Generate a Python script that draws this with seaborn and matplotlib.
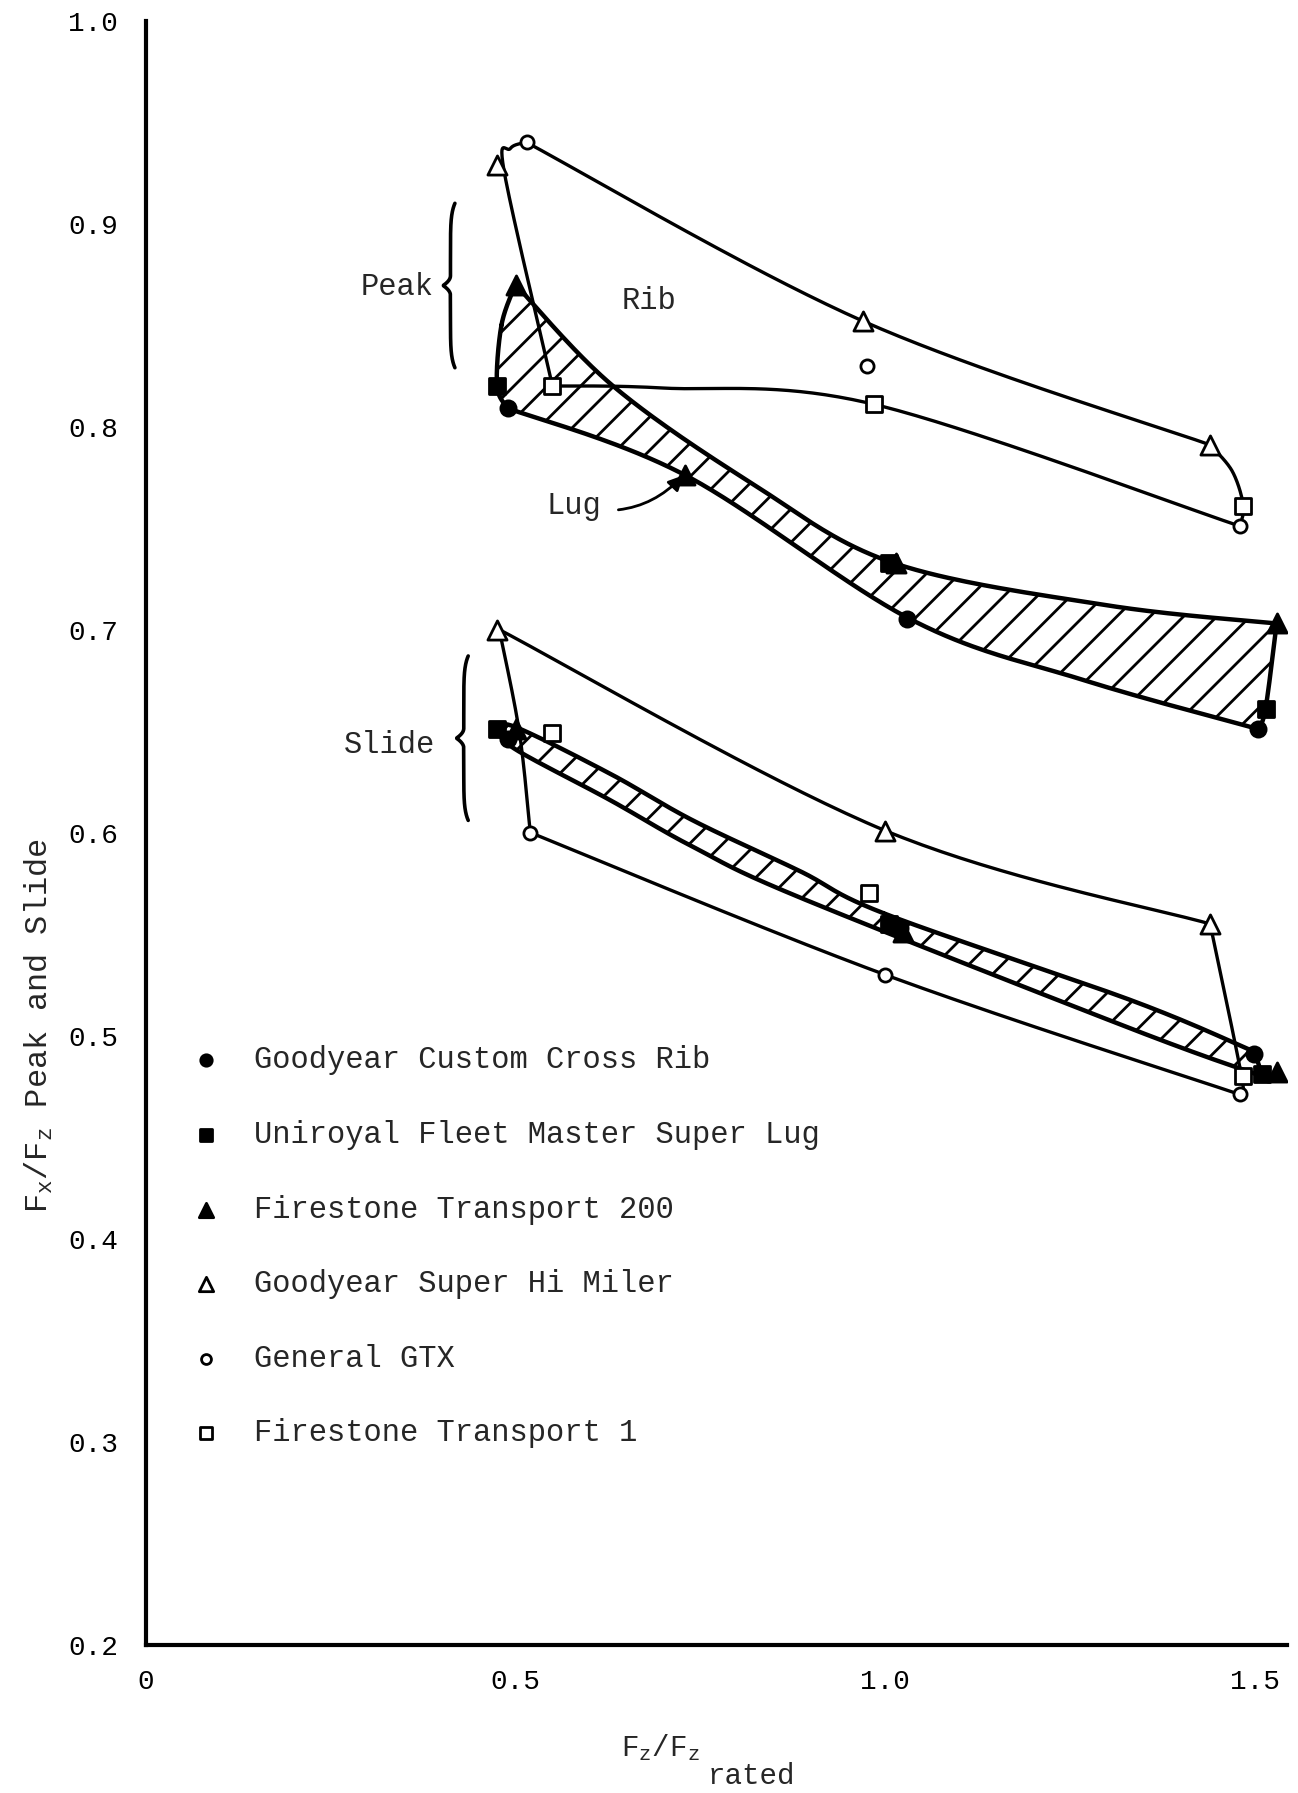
import numpy as np
import pandas as pd
import matplotlib
matplotlib.use('Agg')
import matplotlib.pyplot as plt
import seaborn as sns

sns.set_theme(style='white')
plt.rcParams['font.family'] = ['Liberation Mono', 'DejaVu Sans Mono']
plt.rcParams['mathtext.default'] = 'regular'
plt.rcParams['hatch.linewidth'] = 2.0

# tyre names (legend order)
tyres = ['Goodyear Custom Cross Rib', 'Uniroyal Fleet Master Super Lug',
         'Firestone Transport 200', 'Goodyear Super Hi Miler',
         'General GTX', 'Firestone Transport 1']

# peak Fx/Fz values
crib_peak_x = [0.49, 1.03, 1.505]
crib_peak_y = [0.809, 0.705, 0.651]
uniroyal_peak_x = [0.475, 1.005, 1.515]
uniroyal_peak_y = [0.820, 0.733, 0.661]
ft200_peak_x = [0.50, 0.73, 1.015, 1.53]
ft200_peak_y = [0.870, 0.776, 0.733, 0.703]
himiler_peak_x = [0.475, 0.97, 1.44]
himiler_peak_y = [0.929, 0.852, 0.791]
gtx_peak_x = [0.515, 0.975, 1.48]
gtx_peak_y = [0.940, 0.830, 0.751]
ft1_peak_x = [0.55, 0.985, 1.485]
ft1_peak_y = [0.820, 0.811, 0.761]

# slide Fx/Fz values
crib_slide_x = [0.49, 1.02, 1.50]
crib_slide_y = [0.646, 0.553, 0.491]
uniroyal_slide_x = [0.475, 1.005, 1.51]
uniroyal_slide_y = [0.651, 0.555, 0.481]
ft200_slide_x = [0.50, 1.025, 1.53]
ft200_slide_y = [0.651, 0.551, 0.482]
himiler_slide_x = [0.475, 1.0, 1.44]
himiler_slide_y = [0.700, 0.601, 0.555]
gtx_slide_x = [0.52, 1.0, 1.48]
gtx_slide_y = [0.600, 0.530, 0.471]
ft1_slide_x = [0.55, 0.978, 1.485]
ft1_slide_y = [0.649, 0.570, 0.480]

# hand drawn envelopes (rib = outline, lug = hatched band)
rib_peak_left = ([0.55, 0.485, 0.493, 0.515], [0.820, 0.925, 0.937, 0.940])
rib_peak_top = ([0.515, 0.97, 1.44], [0.940, 0.852, 0.791])
rib_peak_right = ([1.44, 1.47, 1.485, 1.48], [0.791, 0.778, 0.761, 0.751])
rib_peak_bottom = ([1.48, 0.985, 0.70, 0.55], [0.751, 0.811, 0.819, 0.820])

lug_peak_left = ([0.49, 0.475, 0.481, 0.50], [0.809, 0.820, 0.850, 0.870])
lug_peak_top = ([0.50, 0.632, 0.82, 1.01, 1.30, 1.53], [0.870, 0.820, 0.772, 0.733, 0.712, 0.703])
lug_peak_right = ([1.53, 1.515, 1.505], [0.703, 0.661, 0.651])
lug_peak_bottom = ([1.505, 1.27, 1.035, 0.73, 0.49], [0.651, 0.675, 0.705, 0.776, 0.809])

rib_slide_left = ([0.52, 0.505, 0.478], [0.600, 0.650, 0.700])
rib_slide_top = ([0.478, 1.0, 1.44], [0.700, 0.601, 0.555])
rib_slide_right = ([1.44, 1.483, 1.48], [0.555, 0.479, 0.471])
rib_slide_bottom = ([1.48, 1.0, 0.52], [0.471, 0.530, 0.600])

lug_slide_top = ([0.475, 0.50, 0.628, 0.74, 0.885, 1.00, 1.336, 1.50],
                 [0.651, 0.652, 0.629, 0.606, 0.581, 0.560, 0.517, 0.492])
lug_slide_right = ([1.50, 1.51], [0.492, 0.481])
lug_slide_bottom = ([1.51, 1.336, 0.885, 0.74, 0.628, 0.50, 0.475],
                    [0.480, 0.503, 0.568, 0.593, 0.616, 0.641, 0.651])

xtick_vals = [0, 0.5, 1.0, 1.5]
xtick_labels = ['0', '0.5', '1.0', '1.5']
ytick_vals = [0.2, 0.3, 0.4, 0.5, 0.6, 0.7, 0.8, 0.9, 1.0]
ytick_labels = ['0.2', '0.3', '0.4', '0.5', '0.6', '0.7', '0.8', '0.9', '1.0']

# long table of all points
series = [
    (tyres[0], crib_peak_x + crib_slide_x, crib_peak_y + crib_slide_y),
    (tyres[1], uniroyal_peak_x + uniroyal_slide_x, uniroyal_peak_y + uniroyal_slide_y),
    (tyres[2], ft200_peak_x + ft200_slide_x, ft200_peak_y + ft200_slide_y),
    (tyres[3], himiler_peak_x + himiler_slide_x, himiler_peak_y + himiler_slide_y),
    (tyres[4], gtx_peak_x + gtx_slide_x, gtx_peak_y + gtx_slide_y),
    (tyres[5], ft1_peak_x + ft1_slide_x, ft1_peak_y + ft1_slide_y),
]
df = pd.concat([pd.DataFrame({'tyre': n, 'load': x, 'mu': y}) for n, x, y in series],
               ignore_index=True)

marker_style = {
    tyres[0]: dict(marker='o', s=120, facecolor='black'),
    tyres[1]: dict(marker='s', s=130, facecolor='black'),
    tyres[2]: dict(marker='^', s=190, facecolor='black'),
    tyres[3]: dict(marker='^', s=190, facecolor='white'),
    tyres[4]: dict(marker='o', s=90, facecolor='white'),
    tyres[5]: dict(marker='s', s=130, facecolor='white'),
}


def curve(xs, ys, n=40):
    # Catmull-Rom spline through the drawn points
    p = np.column_stack([xs, ys]).astype(float)
    p = np.vstack([p[0], p, p[-1]])
    t = np.linspace(0, 1, n)[:, None]
    out = []
    for i in range(1, len(p) - 2):
        p0, p1, p2, p3 = p[i - 1], p[i], p[i + 1], p[i + 2]
        out.append(0.5 * (2 * p1 + (-p0 + p2) * t
                          + (2 * p0 - 5 * p1 + 4 * p2 - p3) * t ** 2
                          + (-p0 + 3 * p1 - 3 * p2 + p3) * t ** 3))
    return np.vstack(out)


def envelope(ax, segs, hatched=False, lw=2.4):
    pts = np.vstack([curve(*s) for s in segs])
    if hatched:
        ax.fill(pts[:, 0], pts[:, 1], facecolor='white', edgecolor='black',
                hatch='/', linewidth=0, zorder=1)
    ax.plot(pts[:, 0], pts[:, 1], color='black', lw=lw, zorder=2,
            solid_joinstyle='round')


def brace(ax, x0, y0, y1, w):
    s = np.linspace(-1, 1, 300)
    x = x0 + w * 0.6 * s ** 8 - w * np.clip(1 - np.abs(s) / 0.12, 0, 1) ** 2
    y = (y0 + y1) / 2 + s * (y1 - y0) / 2
    ax.plot(x, y, color='black', lw=2.6)


fig = plt.figure(figsize=(12.98, 17.93), dpi=100)
ax = fig.add_axes([0.1125, 0.0828, 0.879, 0.9057])

envelope(ax, [rib_peak_left, rib_peak_top, rib_peak_right, rib_peak_bottom])
envelope(ax, [lug_peak_left, lug_peak_top, lug_peak_right, lug_peak_bottom], hatched=True, lw=3.2)
envelope(ax, [rib_slide_left, rib_slide_top, rib_slide_right, rib_slide_bottom])
envelope(ax, [lug_slide_top, lug_slide_right, lug_slide_bottom], hatched=True, lw=3.2)

for name in tyres:
    grp = df[df['tyre'] == name]
    st = marker_style[name]
    sns.scatterplot(data=grp, x='load', y='mu', ax=ax, marker=st['marker'], s=st['s'],
                    facecolor=st['facecolor'], edgecolor='black', linewidth=2,
                    label=name, zorder=4)

# annotations
ax.text(0.34, 0.869, 'Peak', fontsize=22, ha='center', va='center')
ax.text(0.68, 0.862, 'Rib', fontsize=22, ha='center', va='center')
ax.text(0.33, 0.643, 'Slide', fontsize=22, ha='center', va='center')
ax.annotate('Lug', xy=(0.727, 0.776), xytext=(0.579, 0.761), fontsize=22,
            ha='center', va='center',
            arrowprops=dict(arrowstyle='-|>', color='black', lw=2,
                            mutation_scale=22, shrinkA=10, shrinkB=0,
                            connectionstyle='arc3,rad=0.3'))
brace(ax, 0.412, 0.829, 0.910, 0.010)
brace(ax, 0.430, 0.606, 0.687, 0.010)

ax.set_xlim(0, 1.544)
ax.set_ylim(0.2, 1.0)
ax.set_xticks(xtick_vals)
ax.set_xticklabels(xtick_labels)
ax.set_yticks(ytick_vals)
ax.set_yticklabels(ytick_labels)
ax.tick_params(axis='both', direction='inout', length=15, width=2.5,
               colors='black', labelsize=20)
ax.tick_params(axis='y', pad=12.5)
ax.tick_params(axis='x', pad=10)
for side in ['top', 'right']:
    ax.spines[side].set_visible(False)
for side in ['left', 'bottom']:
    ax.spines[side].set_linewidth(3)
    ax.spines[side].set_color('black')
ax.grid(False)
ax.set_facecolor('white')

ax.set_ylabel('F$_x$/F$_z$ Peak and Slide', fontsize=23)
ax.yaxis.set_label_coords(-0.080, 0.381)
ax.set_xlabel('F$_z$/F$_z$', fontsize=21)
ax.xaxis.set_label_coords(0.451, -0.054)
ax.text(0.492, -0.0723, 'rated', transform=ax.transAxes, fontsize=21,
        ha='left', va='top')

ax.legend(loc='upper left', bbox_to_anchor=(0.0394, 0.369), frameon=False,
          fontsize=22, borderpad=0, borderaxespad=0, handlelength=1.0,
          handletextpad=1.06, labelspacing=1.46, markerscale=0.75)

fig.savefig('out.png', dpi=100, facecolor='white')
